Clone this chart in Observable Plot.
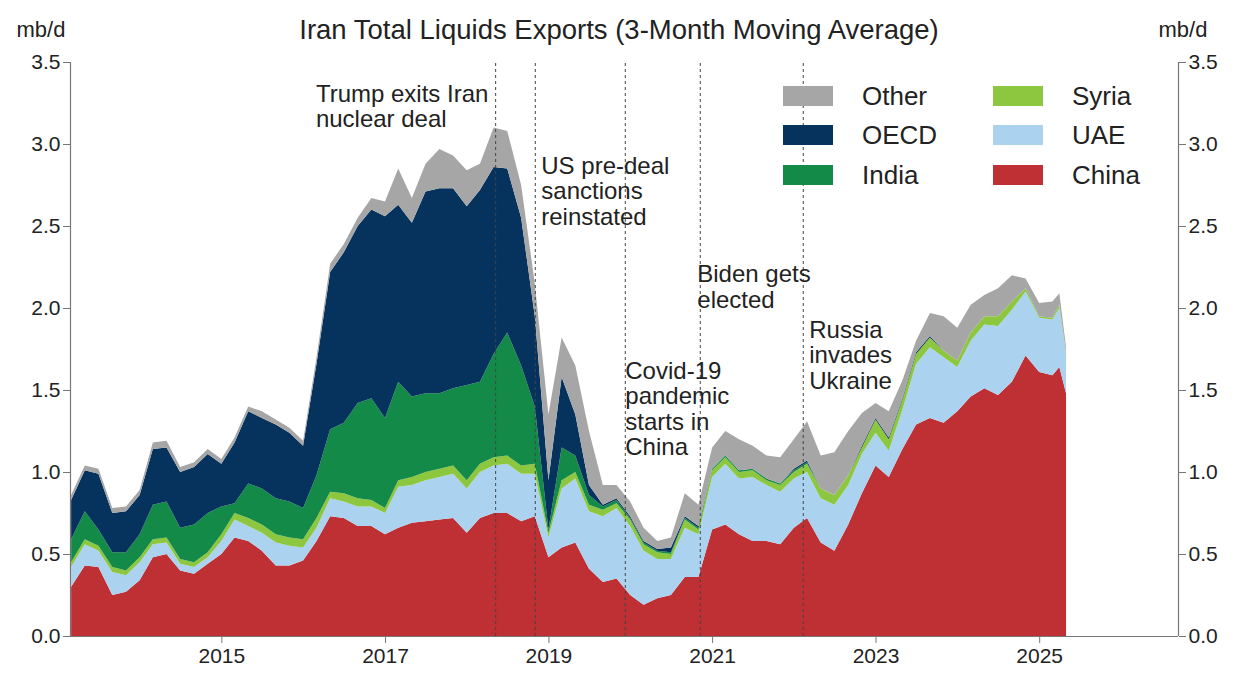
<!DOCTYPE html>
<html><head><meta charset="utf-8">
<script src="https://cdn.jsdelivr.net/npm/d3@7"></script>
<script src="https://cdn.jsdelivr.net/npm/@observablehq/plot@0.6"></script>
<style>
body{margin:0;background:#fff;font-family:"Liberation Sans",Arial,sans-serif;}
#wrap{position:relative;width:1238px;height:682px;overflow:hidden;background:#fff;}
#head{position:relative;height:45px;}
.h{position:absolute;top:16px;color:#222;white-space:nowrap;transform:translateX(-50%);line-height:1;}
#legend{position:absolute;left:0;top:0;width:0;height:0;}
.sw{position:absolute;width:50px;height:20px;}
.lt{position:absolute;font-size:26px;color:#222;line-height:1;white-space:nowrap;}
</style></head>
<body><div id="wrap"><div id="head"></div><div id="chart"></div><div id="legend"></div></div>
<script>
// ---- data (mb/d, 3-month moving average) ----
const dates = [
 "2013-03","2013-05","2013-07","2013-09","2013-11",
 "2014-01","2014-03","2014-05","2014-07","2014-09","2014-11",
 "2015-01","2015-03","2015-05","2015-07","2015-09","2015-11",
 "2016-01","2016-03","2016-05","2016-07","2016-09","2016-11",
 "2017-01","2017-03","2017-05","2017-07","2017-09","2017-11",
 "2018-01","2018-03","2018-05","2018-07","2018-09","2018-11",
 "2019-01","2019-03","2019-05","2019-07","2019-09","2019-11",
 "2020-01","2020-03","2020-05","2020-07","2020-09","2020-11",
 "2021-01","2021-03","2021-05","2021-07","2021-09","2021-11",
 "2022-01","2022-03","2022-05","2022-07","2022-09","2022-11",
 "2023-01","2023-03","2023-05","2023-07","2023-09","2023-11",
 "2024-01","2024-03","2024-05","2024-07","2024-09","2024-11",
 "2025-01","2025-03","2025-04","2025-05"];
const china = [.30,.43,.42,.25,.27, .34,.48,.50,.40,.38,.44, .50,.60,.58,.52,.43,.43, .46,.58,.73,.72,.67,.67,
 .62,.66,.69,.70,.71,.72, .63,.72,.75,.75,.70,.73, .48,.54,.57,.41,.33,.35, .25,.19,.23,.25,.36,.36,
 .65,.68,.62,.58,.58,.56, .66,.72,.57,.52,.68,.87, 1.04,.97,1.14,1.29,1.33,1.30, 1.37,1.46,1.51,1.47,1.55,1.71,
 1.61,1.59,1.64,1.48];
const uae = [.12,.13,.10,.14,.10, .11,.08,.07,.04,.04,.04, .08,.11,.09,.11,.14,.12, .08,.08,.11,.10,.12,.12,
 .13,.25,.23,.25,.26,.27, .27,.28,.29,.30,.29,.26, .12,.36,.39,.35,.40,.43, .42,.33,.24,.22,.30,.26,
 .32,.37,.34,.39,.34,.32, .30,.28,.27,.28,.24,.24, .20,.16,.24,.37,.43,.40, .27,.34,.39,.42,.44,.39,
 .33,.34,.36,.24];
const syria = [.03,.03,.03,.03,.03, .03,.03,.03,.03,.03,.03, .04,.04,.05,.05,.05,.05, .05,.06,.04,.05,.05,.04,
 .03,.04,.05,.05,.05,.05, .05,.05,.05,.05,.05,.06, .03,.05,.04,.04,.04,.03, .04,.04,.04,.03,.05,.03,
 .04,.04,.04,.04,.03,.04, .04,.05,.06,.06,.06,.04, .08,.07,.06,.06,.06,.04, .04,.05,.05,.06,.05,.02,
 .01,.01,.02,.01];
const india = [.14,.17,.10,.09,.11, .14,.21,.22,.19,.23,.24, .17,.06,.21,.22,.22,.22, .19,.26,.38,.43,.58,.62,
 .55,.60,.49,.48,.46,.47, .58,.50,.63,.75,.61,.35, .02,.20,.10,.06,.02,.02, .01,.01,.01,.01,.01,.01,
 .01,.01,.01,.01,.01,.01, .01,.01,0,0,0,0, 0,0,0,0,0,0, 0,0,0,0,0,0, 0,0,0,0];
const oecd = [.24,.25,.34,.24,.25, .24,.34,.33,.34,.35,.36, .26,.37,.44,.43,.45,.42, .38,.68,.96,1.04,1.08,1.15,
 1.23,1.08,1.06,1.23,1.25,1.22, 1.09,1.17,1.14,1.00,.90,.55, .30,.43,.25,.06,.01,.01, .01,.01,.01,.03,.01,.01,
 0,0,0,0,0,0, .01,.01,0,0,0,.01, .01,.01,.01,.01,.01,0, 0,0,0,0,0,0, 0,0,0,0];
const other = [.03,.03,.03,.03,.03, .03,.04,.04,.03,.03,.03, .03,.03,.03,.04,.03,.03, .03,.04,.05,.05,.05,.07,
 .09,.22,.15,.17,.24,.20, .22,.16,.24,.23,.20,.20, .40,.24,.30,.33,.12,.08, .09,.08,.05,.06,.14,.13,
 .13,.15,.19,.14,.14,.16, .18,.24,.20,.26,.27,.20, .09,.16,.11,.07,.14,.21, .20,.17,.13,.17,.16,.06,
 .08,.10,.07,.03];

const seriesNames = ["China","UAE","Syria","India","OECD","Other"];
const seriesColors = ["#bf3034","#abd3ef","#8dc63f","#138a48","#06335e","#a6a6a6"];
const yTicks = [0,0.5,1,1.5,2,2.5,3,3.5];
const tickYears = [2015,2017,2019,2021,2023,2025];
const events = [
 {date:"2018-05-08", label:"Trump exits Iran\nnuclear deal", at:"2016-03-05", y:3.37, dx:-2},
 {date:"2018-11-01", label:"US pre-deal\nsanctions\nreinstated", at:"2018-11-01", y:2.93, dx:6},
 {date:"2019-12-08", label:"Covid-19\npandemic\nstarts in\nChina", at:"2019-12-08", y:1.68, dx:0},
 {date:"2020-11-07", label:"Biden gets\nelected", at:"2020-11-07", y:2.27, dx:-3},
 {date:"2022-02-10", label:"Russia\ninvades\nUkraine", at:"2022-02-10", y:1.93, dx:6}
];
const legendRows = [["Other","Syria"],["OECD","UAE"],["India","China"]];

// ---- build ----
const values = [china, uae, syria, india, oecd, other];
const rows = [];
seriesNames.forEach((s,k)=>dates.forEach((d,i)=>rows.push({date:new Date(d+"-01"), series:s, value:values[k][i]})));
const ann = events.map(e=>({date:new Date(e.at), y:e.y, label:e.label, dx:e.dx}));
const x0 = new Date("2013-02-24"), x1 = new Date("2026-09-13");
const font = '"Liberation Sans", Arial, sans-serif';

const chart = Plot.plot({
  width:1238, height:637,
  marginLeft:70, marginRight:60, marginTop:17, marginBottom:46,
  style:{fontFamily:font, fontSize:"21px", color:"#222", background:"white", overflow:"visible"},
  x:{type:"utc", domain:[x0,x1]},
  y:{domain:[0,3.5]},
  color:{domain:seriesNames, range:seriesColors},
  marks:[
    Plot.areaY(rows,{x:"date", y:"value", fill:"series", z:"series", order:seriesNames, curve:"linear"}),
    Plot.ruleX(events.map(e=>new Date(e.date)),{y1:0, y2:3.5, stroke:"#444", strokeWidth:1, strokeDasharray:"3,3"}),
    ...ann.map(a=>Plot.text([a],{x:"date", y:"y", text:"label", dx:a.dx, textAnchor:"start", lineAnchor:"top", fontSize:24, lineHeight:1.06, fill:"#222"})),
    Plot.ruleY([0],{stroke:"#777", strokeWidth:1.2}),
    Plot.ruleX([x0,x1],{stroke:"#777", strokeWidth:1.2}),
    Plot.axisX({ticks:tickYears.map(y=>new Date(Date.UTC(y,0,1))), tickFormat:"%Y", tickSize:7, tickPadding:5, label:null, stroke:"#777"}),
    Plot.axisY({anchor:"left", ticks:yTicks, tickFormat:d=>d.toFixed(1), tickSize:7, tickPadding:3, label:null, stroke:"#777"}),
    Plot.axisY({anchor:"right", ticks:yTicks, tickFormat:d=>d.toFixed(1), tickSize:7, tickPadding:3, label:null, stroke:"#777"})
  ]
});
document.getElementById("chart").appendChild(chart);

// header
const head = document.getElementById("head");
[["mb/d",41,22],["Iran Total Liquids Exports (3-Month Moving Average)",619,27.5],["mb/d",1183,22]].forEach(([t,cx,fs])=>{
  const s=document.createElement("div"); s.className="h"; s.textContent=t;
  s.style.left=cx+"px"; s.style.fontSize=fs+"px"; s.style.top=(30-fs/2)+"px"; head.appendChild(s);
});
// legend
const lg = document.getElementById("legend");
const rowY=[96,135,175], colX=[783,993];
legendRows.forEach((r,ri)=>r.forEach((name,ci)=>{
  const sw=document.createElement("div"); sw.className="sw";
  sw.style.left=colX[ci]+"px"; sw.style.top=(rowY[ri]-10)+"px";
  sw.style.background=seriesColors[seriesNames.indexOf(name)]; lg.appendChild(sw);
  const t=document.createElement("div"); t.className="lt"; t.textContent=name;
  t.style.left=(colX[ci]+79)+"px"; t.style.top=(rowY[ri]-13)+"px"; lg.appendChild(t);
}));
</script>
</body></html>
